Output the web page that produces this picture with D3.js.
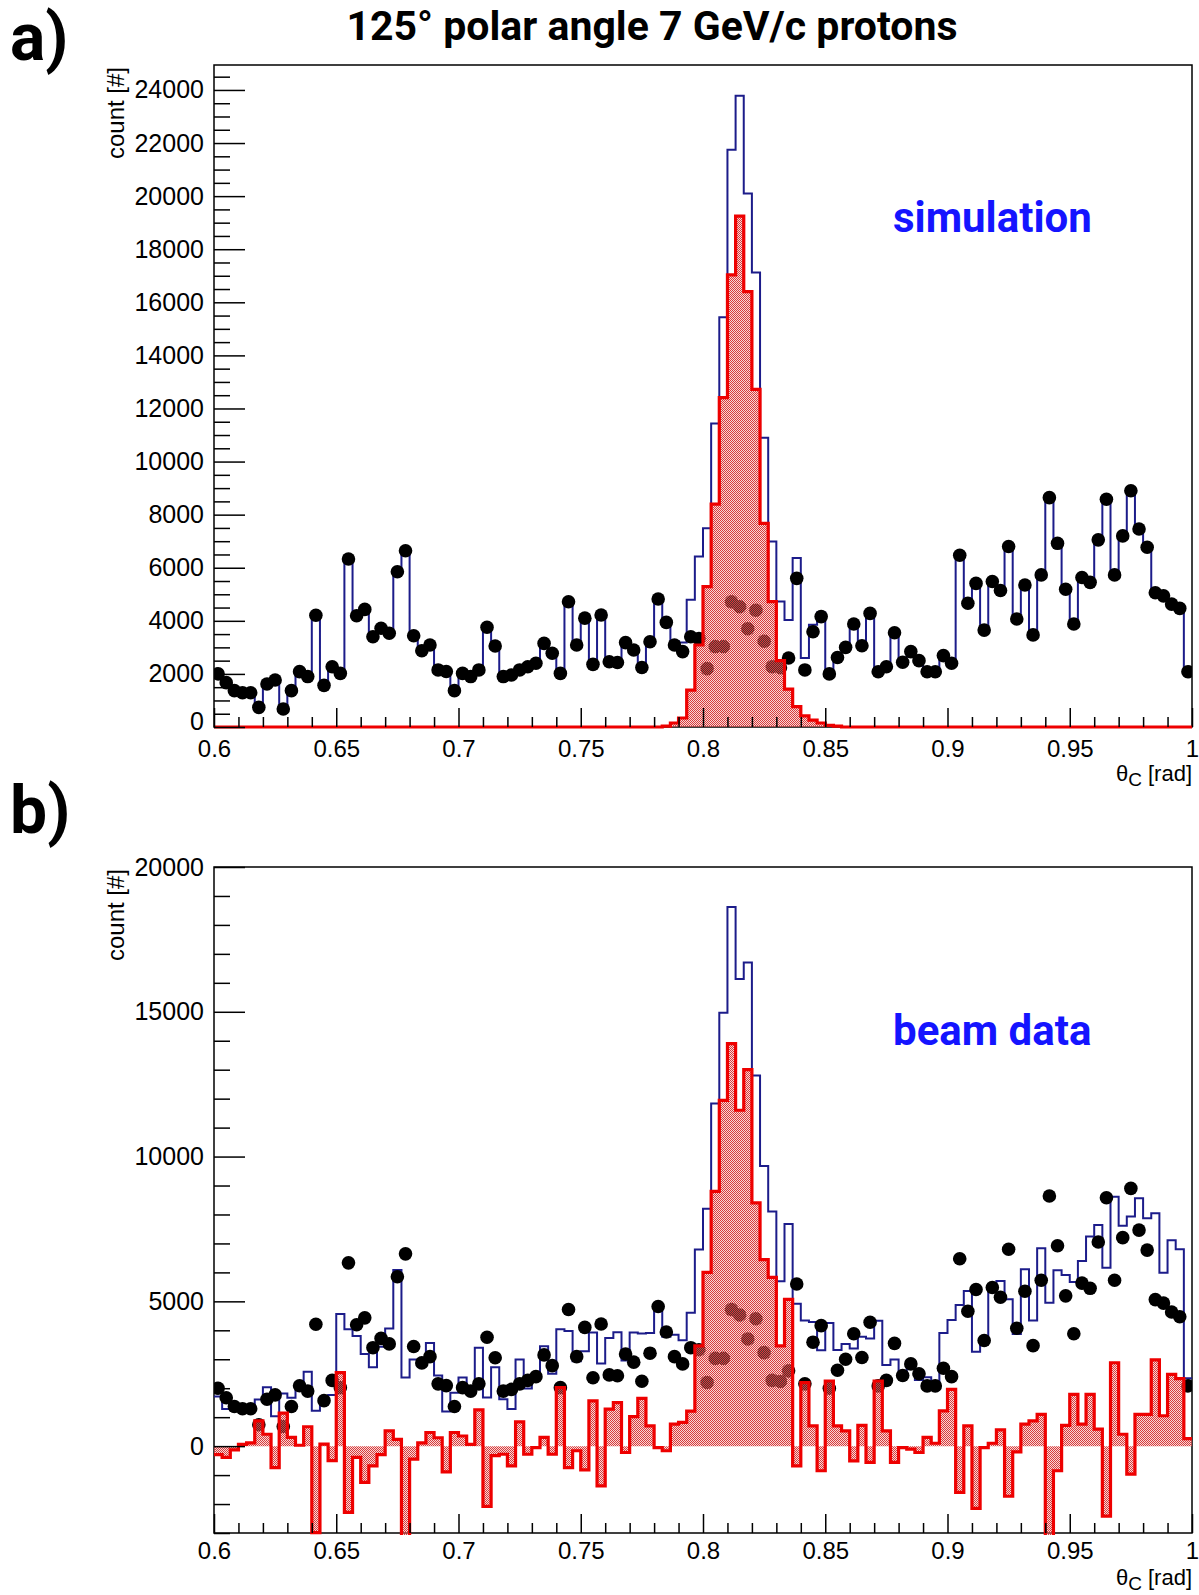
<!DOCTYPE html>
<html><head><meta charset="utf-8">
<script src="https://cdn.jsdelivr.net/npm/d3@7"></script>
<style>
body{margin:0;background:#fff}
svg{display:block}
</style>
</head><body>
<script>
// ---------------- data ----------------
const xRange = [0.6, 1.0];
const nBins = 120;
const xTickValues = [0.6, 0.65, 0.7, 0.75, 0.8, 0.85, 0.9, 0.95, 1.0];
const xTickLabels = ["0.6", "0.65", "0.7", "0.75", "0.8", "0.85", "0.9", "0.95", "1"];
const yTicksA = [0, 2000, 4000, 6000, 8000, 10000, 12000, 14000, 16000, 18000, 20000, 22000, 24000];
const yTickLabelsA = ["0", "2000", "4000", "6000", "8000", "10000", "12000", "14000", "16000", "18000", "20000", "22000", "24000"];
const yTicksB = [0, 5000, 10000, 15000, 20000];
const yTickLabelsB = ["0", "5000", "10000", "15000", "20000"];

// black points (same in both panels)
const points = [
 2000,1670,1370,1290,1290,740,1620,1770,680,1370,
 2085,1900,4210,1570,2270,2020,6330,4190,4430,3400,
 3720,3530,5850,6640,3440,2875,3090,2150,2090,1370,
 2020,1900,2150,3760,3050,1900,1960,2150,2270,2400,
 3150,2780,2020,4720,3090,4100,2360,4220,2460,2430,
 3180,2900,2240,3210,4820,3940,3090,2840,3400,3330,
 2200,3030,3030,4720,4530,3700,4400,3230,2270,2230,
 2600,5600,2150,3590,4160,2000,2620,3000,3880,3060,
 4280,2080,2270,3550,2440,2840,2500,2080,2080,2690,
 2400,6470,4660,5410,3650,5480,5140,6800,4070,5350,
 3470,5730,8640,6920,5190,3880,5630,5450,7050,8580,
 5730,7200,8900,7460,6770,5060,4940,4630,4470,2080
];
// panel a: blue simulation histogram
const simTotal = [
 2000,1670,1370,1290,1290,740,1620,1770,680,1370,
 2085,1900,4210,1570,2270,2020,6330,4190,4430,3400,
 3720,3530,5850,6640,3440,2875,3090,2150,2090,1370,
 2020,1900,2150,3760,3050,1900,1960,2150,2270,2400,
 3150,2780,2020,4720,3090,4100,2360,4220,2460,2430,
 3180,2900,2240,3210,4820,3970,3240,3180,4790,6420,
 7490,11430,15440,21750,23780,20100,17120,10900,6990,4730,
 4030,6370,2600,3850,4310,2060,2650,3000,3880,3060,
 4280,2080,2270,3550,2440,2840,2500,2080,2080,2690,
 2400,6470,4660,5410,3650,5480,5140,6800,4070,5350,
 3470,5730,8640,6920,5190,3880,5630,5450,7050,8580,
 5730,7200,8900,7460,6770,5060,4940,4630,4470,2080
];
// panel a: red signal histogram
const simSignal = [
 0,0,0,0,0,0,0,0,0,0,
 0,0,0,0,0,0,0,0,0,0,
 0,0,0,0,0,0,0,0,0,0,
 0,0,0,0,0,0,0,0,0,0,
 0,0,0,0,0,0,0,0,0,0,
 0,0,0,0,0,30,150,340,1390,3090,
 5290,8400,12410,17030,19250,16400,12720,7670,4720,2500,
 1430,770,420,260,150,60,30,0,0,0,
 0,0,0,0,0,0,0,0,0,0,
 0,0,0,0,0,0,0,0,0,0,
 0,0,0,0,0,0,0,0,0,0,
 0,0,0,0,0,0,0,0,0,0
];
// panel b: blue beam-data histogram
const dataTotal = [
 1710,1280,1240,1350,1400,1610,2030,1030,1820,1670,
 2115,2570,1220,1640,1770,4560,4040,3800,3180,2720,
 3430,4060,6080,2370,2990,2985,3560,2440,1200,1840,
 2370,1960,3400,1680,2720,1620,1280,2990,1990,2350,
 3450,2500,4040,3980,2930,3280,3920,2850,3735,3930,
 2960,3920,3890,3910,4770,3780,3850,3660,4610,6790,
 8200,11830,14970,18620,16130,16700,12800,9670,8100,5690,
 7670,4920,4340,4290,3310,4250,3320,3530,3370,3780,
 3720,4330,2800,2990,2390,2740,2280,2380,2180,3910,
 4360,4870,5360,3260,3600,5580,5700,5070,3870,6110,
 4340,6830,4950,6070,5910,5670,6390,7240,7640,6160,
 8610,7610,7930,8560,7870,8040,5990,7110,6800,2340
];
// panel b: red difference histogram
const dataDiff = [
 -290,-390,-130,60,110,870,410,-740,1140,300,
 30,670,-2990,70,-500,2540,-2290,-390,-1250,-680,
 -290,530,230,-4270,-450,110,470,290,-890,470,
 350,60,1250,-2080,-330,-280,-680,840,-280,-50,
 300,-280,2020,-740,-160,-820,1560,-1370,1275,1500,
 -220,1020,1650,700,-50,-160,760,820,1210,3460,
 6000,8800,11940,13900,11600,13000,8400,6440,5830,3460,
 5070,-680,2190,700,-850,2250,700,530,-510,720,
 -560,2250,530,-560,-50,-100,-220,300,100,1220,
 1960,-1600,700,-2150,-50,100,560,-1730,-200,760,
 870,1100,-3690,-850,720,1790,760,1790,590,-2420,
 2880,410,-970,1100,1100,2980,1050,2480,2330,260
];

// ---------------- drawing ----------------
const W = 1199, H = 1595;
const svg = d3.select("body").append("svg").attr("width", W).attr("height", H);
const defs = svg.append("defs");
const pat = defs.append("pattern").attr("id", "hatch").attr("patternUnits", "userSpaceOnUse")
  .attr("width", 2).attr("height", 2);
pat.append("rect").attr("x", 0).attr("y", 0).attr("width", 2).attr("height", 2).attr("fill", "rgba(235,140,140,0.35)");
pat.append("rect").attr("x", 0).attr("y", 0).attr("width", 1).attr("height", 1).attr("fill", "#d83c3c");
pat.append("rect").attr("x", 1).attr("y", 1).attr("width", 1).attr("height", 1).attr("fill", "#d83c3c");

const FONT = "Liberation Sans, Arial, sans-serif";
const BOLD = "Roboto, 'Open Sans', sans-serif";
const blueColor = "#1c1c8a";
const redColor = "#ee0000";

const binWidth = (xRange[1] - xRange[0]) / nBins;
const edges = d3.range(nBins + 1).map(i => xRange[0] + i * binWidth);

function drawPanel(o) {
  const x = d3.scaleLinear(xRange, [o.left, o.right]);
  const y = d3.scaleLinear(o.ydom, [o.bottom, o.top]);
  const g = svg.append("g");
  const clipId = "clip" + o.id;
  defs.append("clipPath").attr("id", clipId).append("rect")
    .attr("x", o.left).attr("y", o.top).attr("width", o.right - o.left).attr("height", o.bottom - o.top + 2);

  // frame
  g.append("rect").attr("x", o.left).attr("y", o.top).attr("width", o.right - o.left)
    .attr("height", o.bottom - o.top).attr("fill", "none").attr("stroke", "#000").attr("stroke-width", 1.5);

  const stepPts = vals => edges.map((e, i) => [e, vals[Math.min(i, nBins - 1)]]);
  const line = d3.line().x(d => x(d[0])).y(d => y(d[1])).curve(d3.curveStepAfter);
  const area = d3.area().x(d => x(d[0])).y0(y(0)).y1(d => y(d[1])).curve(d3.curveStepAfter);

  const plot = g.append("g").attr("clip-path", `url(#${clipId})`);
  plot.append("path").attr("d", line(stepPts(o.blue))).attr("fill", "none")
    .attr("stroke", blueColor).attr("stroke-width", 2);
  plot.append("g").selectAll("circle").data(points).join("circle")
    .attr("cx", (d, i) => x(xRange[0] + (i + 0.5) * binWidth)).attr("cy", d => y(d))
    .attr("r", 6.8).attr("fill", "#000");
  plot.append("path").attr("d", area(stepPts(o.red))).attr("fill", "url(#hatch)");
  plot.append("path").attr("d", line(stepPts(o.red))).attr("fill", "none")
    .attr("stroke", redColor).attr("stroke-width", 3.2);

  // x axis major / minor
  const xMinor = d3.range(61, 100).map(v => v / 100).filter(v => Math.abs(v * 20 - Math.round(v * 20)) > 1e-6);
  g.append("g").attr("transform", `translate(0,${o.bottom})`)
    .call(d3.axisBottom(x).tickValues(xMinor).tickSize(-10).tickFormat(""))
    .call(s => s.select(".domain").remove())
    .selectAll("line").attr("stroke-width", 1.5);
  const xa = g.append("g").attr("transform", `translate(0,${o.bottom})`)
    .call(d3.axisBottom(x).tickValues(xTickValues).tickSize(-19).tickPadding(o.xpad)
      .tickFormat((d, i) => xTickLabels[i]));
  xa.select(".domain").remove();
  xa.selectAll("line").attr("stroke-width", 1.5);
  xa.selectAll("text").attr("font-family", FONT).attr("font-size", 24).attr("fill", "#000");

  // y axis
  g.append("g").attr("transform", `translate(${o.left},0)`)
    .call(d3.axisLeft(y).tickValues(o.yMinor).tickSize(-16).tickFormat(""))
    .call(s => s.select(".domain").remove())
    .selectAll("line").attr("stroke-width", 1.5);
  const ya = g.append("g").attr("transform", `translate(${o.left},0)`)
    .call(d3.axisLeft(y).tickValues(o.yTicks).tickSize(-31).tickPadding(10)
      .tickFormat((d, i) => o.yLabels[i]));
  ya.select(".domain").remove();
  ya.selectAll("line").attr("stroke-width", 1.5);
  ya.selectAll("text").attr("font-family", FONT).attr("font-size", 25).attr("fill", "#000")
    .attr("dy", (d) => d === 0 && o.id === "a" ? "0.1em" : "0.32em");

  // axis titles
  const xt = svg.append("text").attr("x", o.right).attr("y", o.bottom + o.xtitle)
    .attr("text-anchor", "end").attr("font-family", FONT).attr("font-size", 22);
  xt.append("tspan").text("θ");
  xt.append("tspan").text("C").attr("dy", 5).attr("font-size", 19);
  xt.append("tspan").text(" [rad]").attr("dy", -5);
  svg.append("text").attr("transform", `translate(124,${o.top + 2}) rotate(-90)`)
    .attr("text-anchor", "end").attr("font-family", FONT).attr("font-size", 24).text("count [#]");
}

drawPanel({id: "a", left: 214, right: 1192, top: 65, bottom: 727, ydom: [0, 24940],
  blue: simTotal, red: simSignal, yTicks: yTicksA, yLabels: yTickLabelsA,
  yMinor: d3.range(500, 25000, 500).filter(v => v % 2000 !== 0), xpad: 13, xtitle: 54});
drawPanel({id: "b", left: 214, right: 1192, top: 867, bottom: 1533, ydom: [-3000, 20000],
  blue: dataTotal, red: dataDiff, yTicks: yTicksB, yLabels: yTickLabelsB,
  yMinor: d3.range(-3000, 20001, 1000).filter(v => v % 5000 !== 0), xpad: 9, xtitle: 52});

// titles and labels
svg.append("text").attr("x", 652).attr("y", 40).attr("text-anchor", "middle")
  .attr("font-family", BOLD).attr("font-weight", 700).attr("font-size", 41)
  .text("125° polar angle 7 GeV/c protons");
svg.append("text").attr("x", 10).attr("y", 60).attr("font-family", BOLD).attr("font-weight", 700)
  .attr("font-size", 66).text("a)");
svg.append("text").attr("x", 10).attr("y", 833).attr("font-family", BOLD).attr("font-weight", 700)
  .attr("font-size", 66).text("b)");
svg.append("text").attr("x", 893).attr("y", 232).attr("font-family", BOLD).attr("font-weight", 700)
  .attr("font-size", 42).attr("fill", "#1414ff").text("simulation");
svg.append("text").attr("x", 893).attr("y", 1045).attr("font-family", BOLD).attr("font-weight", 700)
  .attr("font-size", 42).attr("fill", "#1414ff").text("beam data");
</script>
</body></html>
